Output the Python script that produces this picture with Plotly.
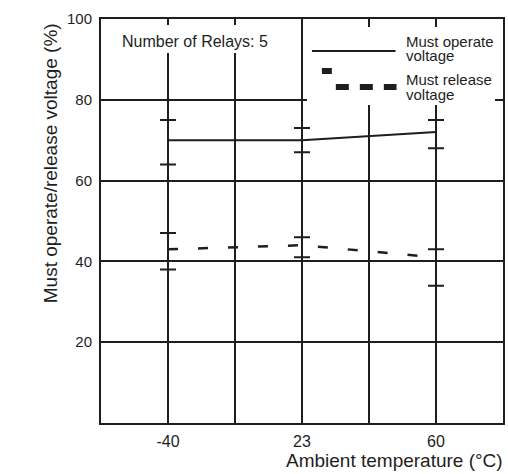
import plotly.graph_objects as go

# Ambient temperatures tested (shown as evenly spaced slots on the x axis)
temps = ["-40", "23", "60"]

# Must operate voltage (% of rated): average, maximum, minimum
operate_avg = [70, 70, 72]
operate_max = [75, 73, 75]
operate_min = [64, 67, 68]

# Must release voltage (% of rated): average, maximum, minimum
release_avg = [43, 44, 41]
release_max = [47, 46, 43]
release_min = [38, 41, 34]

y_ticks = [20, 40, 60, 80, 100]

INK = "#1e1e1e"
FONT = "Liberation Sans, Arial, sans-serif"

W, H = 508, 474
L, R, T, B = 101, 3, 19, 51
PW, PH = W - L - R, H - T - B


def px(x):
    return (x - L) / PW


def py(y):
    return (H - B - y) / PH


# each temperature sits on an odd slot of a 0..6 grid
slots = [2 * i + 1 for i in range(len(temps))]
tick_slots = list(range(0, 2 * len(temps) + 1))
tick_text = ["" for _ in tick_slots]
for s, t in zip(slots, temps):
    tick_text[s] = t


def err(avg, hi, lo):
    return dict(
        type="data",
        symmetric=False,
        array=[h - a for a, h in zip(avg, hi)],
        arrayminus=[a - l for a, l in zip(avg, lo)],
        color=INK,
        thickness=2,
        width=8,
    )


fig = go.Figure()
fig.add_trace(go.Scatter(
    x=slots, y=operate_avg, mode="lines",
    line=dict(color=INK, width=2),
    error_y=err(operate_avg, operate_max, operate_min),
    name="Must operate voltage", showlegend=False,
))
fig.add_trace(go.Scatter(
    x=slots, y=release_avg, mode="lines",
    line=dict(color=INK, width=2.5, dash="10px,20px"),
    error_y=err(release_avg, release_max, release_min),
    name="Must release voltage", showlegend=False,
))

shapes = [
    # white panels behind the note and the key
    dict(type="rect", xref="paper", yref="paper", layer="above",
         x0=px(108), x1=px(300), y0=py(53), y1=py(25),
         fillcolor="white", line=dict(width=0)),
    dict(type="rect", xref="paper", yref="paper", layer="above",
         x0=px(308), x1=px(497), y0=py(105), y1=py(27),
         fillcolor="white", line=dict(width=0)),
    # key: solid line for operate voltage
    dict(type="line", xref="paper", yref="paper", layer="above",
         x0=px(313), x1=px(397), y0=py(51), y1=py(51),
         line=dict(color=INK, width=2)),
    # key: broken heavy line for release voltage
    dict(type="rect", xref="paper", yref="paper", layer="above",
         x0=px(323), x1=px(333), y0=py(74), y1=py(68),
         fillcolor=INK, line=dict(width=0)),
    dict(type="line", xref="paper", yref="paper", layer="above",
         x0=px(337), x1=px(398), y0=py(87), y1=py(87),
         line=dict(color=INK, width=6, dash="13px,11px")),
]


def note(text, x, y, size, xanchor="center", angle=0):
    return dict(text=text, x=px(x), y=py(y), xref="paper", yref="paper",
                xanchor=xanchor, yanchor="middle", textangle=angle,
                showarrow=False, font=dict(size=size, color=INK, family=FONT))


annotations = [
    note("Number of Relays: 5", 195, 41, 16),
    note("Must operate", 406, 41, 15, "left"),
    note("voltage", 406, 56, 15, "left"),
    note("Must release", 406, 79, 15, "left"),
    note("voltage", 406, 94, 15, "left"),
    note("Must operate/release voltage (%)", 50, 163, 19, angle=-90),
    note("Ambient temperature (°C)", 507, 460, 19, "right"),
]

fig.update_layout(
    width=W, height=H,
    margin=dict(l=L, r=R, t=T, b=B, pad=0),
    paper_bgcolor="white", plot_bgcolor="white",
    font=dict(family=FONT, color=INK),
    shapes=shapes,
    annotations=annotations,
)
fig.update_xaxes(
    range=[0, len(tick_slots) - 1], tickvals=tick_slots, ticktext=tick_text,
    showgrid=True, gridcolor=INK, gridwidth=2,
    showline=True, linecolor=INK, linewidth=2, mirror=True,
    ticks="", ticklabelstandoff=3, tickfont=dict(size=16, color=INK),
    zeroline=False,
)
fig.update_yaxes(
    range=[0, 100], tickvals=y_ticks,
    showgrid=True, gridcolor=INK, gridwidth=2,
    showline=True, linecolor=INK, linewidth=2, mirror=True,
    ticks="", ticklabelstandoff=4, tickfont=dict(size=15, color=INK),
    zeroline=False,
)

fig.write_html("out.html")
